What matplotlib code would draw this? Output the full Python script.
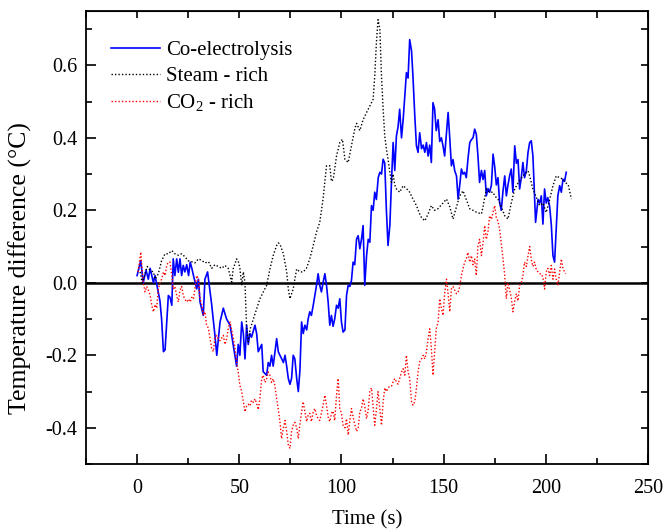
import matplotlib
matplotlib.use("Agg")
import matplotlib.pyplot as plt
from matplotlib.ticker import MultipleLocator, NullFormatter

# Co-electrolysis (solid blue)
co_t = [0, 1.8, 3.0, 4.4, 5.5, 6.4, 8.0, 8.8, 10.4, 11.2, 12.0, 12.9, 13.7, 14.5, 15.3, 16.1,
        17.0, 17.7, 18.5, 19.4, 20.2, 21.0, 21.8, 22.6, 23.4, 24.3, 25.2, 26.0, 26.8, 27.6,
        29.2, 30.0, 30.8, 32.4, 33.2, 34.5, 36.5, 38.1, 39.0, 40.6, 42.2, 43.8, 45.5, 47.0,
        48.7, 49.5, 50.3, 51.2, 52.0, 52.8, 53.6, 54.4, 55.2, 56.0, 57.7, 58.5, 59.3, 61.0,
        61.7, 63.4, 64.2, 65.0, 65.8, 66.6, 68.3, 69.1, 69.9, 70.8, 71.6, 72.4, 73.2, 74.0,
        74.8, 75.6, 76.4, 77.2, 78.1, 78.9, 79.7, 80.5, 81.3, 82.1, 83.0, 83.7, 84.5, 85.3,
        86.2, 87.0, 87.8, 88.6, 89.4, 90.2, 91.0, 91.9, 92.7, 93.5, 94.3, 95.1, 95.9, 96.7,
        97.6, 98.4, 99.2, 100.0, 100.8, 101.7, 102.5, 103.3, 104.1, 104.9, 105.7, 106.5,
        107.4, 108.2, 109.0, 109.8, 110.6, 111.4, 112.3, 113.1, 113.9, 114.7, 115.5, 116.3,
        117.1, 118.0, 118.8, 119.6, 120.4, 121.2, 122.0, 122.8, 123.7, 124.5, 125.3, 126.1,
        126.9, 127.7, 128.5, 129.4, 130.2, 131.0, 131.8, 132.6, 133.4, 134.3, 135.0, 135.9,
        136.7, 137.5, 138.3, 139.2, 140.0, 140.8, 141.6, 142.4, 143.2, 144.0, 144.8, 145.6,
        146.4, 147.3, 148.1, 148.9, 149.7, 150.5, 151.4, 152.2, 153.0, 153.8, 154.6, 155.4,
        156.3, 157.1, 157.9, 158.7, 159.5, 160.3, 161.1, 161.9, 162.8, 163.6, 164.4, 165.2,
        166.0, 166.8, 167.6, 168.5, 169.3, 170.1, 170.9, 171.7, 172.5, 173.4, 174.2, 175.0,
        175.8, 176.6, 177.4, 178.2, 179.0, 179.9, 180.7, 181.5, 182.3, 183.1, 183.9, 184.8,
        185.6, 186.4, 187.2, 188.0, 188.8, 189.6, 190.5, 191.3, 192.1, 192.9, 193.7, 194.5,
        195.0, 196.2, 197.0, 197.8, 198.6, 199.4, 200.2, 201.0, 201.9, 202.7, 203.5, 204.3,
        205.1, 205.9, 206.8, 207.6, 208.4, 209.2, 210.0]
co_v = [0.02, 0.061, 0.0, 0.035, 0.01, 0.04, 0.0, 0.02, -0.026, -0.05, -0.10, -0.19, -0.185,
        -0.108, -0.035, -0.04, -0.062, 0.066, 0.02, 0.066, 0.029, 0.066, 0.02, 0.048, 0.03,
        0.05, 0.02, 0.057, 0.04, 0.02, -0.017, 0.01, -0.053, -0.09, 0.01, 0.03, -0.06, -0.145,
        -0.2, -0.108, -0.07, -0.1, -0.117, -0.17, -0.23, -0.17, -0.2, -0.108, -0.14, -0.21,
        -0.117, -0.17, -0.14, -0.15, -0.117, -0.14, -0.19, -0.17, -0.245, -0.255, -0.22,
        -0.23, -0.2, -0.23, -0.154, -0.19, -0.2, -0.21, -0.22, -0.2, -0.23, -0.264, -0.28,
        -0.264, -0.2, -0.21, -0.264, -0.3, -0.24, -0.108, -0.14, -0.117, -0.13, -0.1, -0.08,
        -0.09, -0.062, -0.035, -0.007, 0.025, -0.007, -0.025, 0.0, 0.025, -0.007, -0.053,
        -0.117, -0.09, -0.12, -0.10, -0.062, -0.07, -0.044, -0.108, -0.136, -0.13, -0.035,
        -0.007, -0.01, 0.006, 0.057, 0.05, 0.121, 0.13, 0.094, 0.12, 0.158, -0.007, 0.075,
        0.12, 0.112, 0.213, 0.2, 0.25, 0.23, 0.29, 0.305, 0.30, 0.341, 0.33, 0.2, 0.103, 0.16,
        0.28, 0.387, 0.31, 0.405, 0.43, 0.479, 0.40, 0.45, 0.515, 0.58, 0.565, 0.671, 0.64,
        0.57, 0.46, 0.378, 0.36, 0.414, 0.37, 0.38, 0.36, 0.387, 0.35, 0.38, 0.332, 0.497,
        0.479, 0.42, 0.45, 0.39, 0.40, 0.378, 0.35, 0.414, 0.47, 0.40, 0.323, 0.34, 0.31,
        0.295, 0.231, 0.27, 0.314, 0.30, 0.305, 0.29, 0.341, 0.387, 0.395, 0.40, 0.424, 0.41,
        0.35, 0.277, 0.31, 0.285, 0.31, 0.24, 0.26, 0.25, 0.27, 0.355, 0.32, 0.27, 0.29,
        0.222, 0.20, 0.25, 0.295, 0.24, 0.27, 0.295, 0.314, 0.25, 0.378, 0.33, 0.34, 0.259,
        0.29, 0.332, 0.29, 0.31, 0.36, 0.387, 0.392, 0.35, 0.24, 0.167, 0.23, 0.22, 0.24,
        0.162, 0.259, 0.22, 0.235, 0.21, 0.16, 0.075, 0.057, 0.15, 0.24, 0.268, 0.25, 0.286,
        0.28, 0.305]

# Steam - rich (black dotted)
steam_t = [1.5, 2.5, 3.9, 5.0, 6.4, 8.0, 8.8, 10.4, 12.0, 13.7, 15.3, 17.0, 18.5, 20.2, 21.8,
           23.4, 25.0, 26.8, 28.3, 30.0, 31.6, 33.2, 35.0, 36.5, 38.1, 39.8, 41.4, 43.0, 44.6,
           45.5, 46.3, 47.0, 48.7, 49.5, 50.3, 51.2, 52.0, 52.8, 53.6, 54.4, 55.2, 56.9, 58.5,
           60.1, 61.7, 63.4, 65.0, 66.6, 68.3, 69.1, 69.9, 71.6, 73.2, 74.0, 74.8, 75.6, 76.4,
           77.2, 78.1, 79.7, 81.3, 82.9, 84.5, 86.2, 87.8, 89.4, 91.0, 92.7, 94.3, 95.1, 96.0,
           97.6, 99.2, 100.5, 101.7, 103.3, 104.9, 106.5, 107.4, 108.2, 109.0, 110.6, 112.3,
           113.9, 115.5, 116.3, 117.1, 117.9, 118.8, 119.6, 120.4, 121.2, 122.0, 122.8, 123.7,
           124.5, 125.3, 126.1, 126.9, 128.5, 130.2, 131.8, 133.4, 135.0, 136.7, 138.3, 139.2,
           140.8, 142.4, 144.0, 145.6, 147.3, 148.9, 151.4, 153.0, 154.6, 156.3, 157.9, 159.5,
           161.1, 162.8, 164.4, 166.0, 168.5, 169.3, 170.9, 172.5, 174.2, 175.0, 176.6, 178.2,
           179.9, 181.5, 183.1, 184.8, 186.4, 188.8, 191.3, 192.1, 193.7, 195.4, 197.0, 198.6,
           200.2, 201.9, 203.5, 205.1, 206.8, 208.4, 210.0, 211.0, 212.5]
steam_v = [0.03, 0.0, 0.025, 0.045, 0.034, 0.03, 0.01, 0.025, 0.061, 0.08, 0.08, 0.089, 0.08,
           0.076, 0.08, 0.072, 0.061, 0.058, 0.055, 0.066, 0.062, 0.055, 0.058, 0.04, 0.05,
           0.045, 0.04, 0.048, 0.04, 0.02, 0.002, 0.038, 0.066, 0.06, 0.04, -0.007, 0.03, 0.0,
           -0.127, -0.163, -0.13, -0.10, -0.072, -0.044, -0.026, -0.007, 0.038, 0.075, 0.103,
           0.11, 0.107, 0.08, 0.03, -0.017, -0.044, -0.03, -0.017, 0.01, 0.038, 0.03, 0.03,
           0.04, 0.066, 0.103, 0.14, 0.167, 0.231, 0.323, 0.323, 0.28, 0.286, 0.35, 0.387,
           0.396, 0.341, 0.332, 0.378, 0.424, 0.44, 0.43, 0.42, 0.45, 0.47, 0.488, 0.506, 0.57,
           0.662, 0.726, 0.70, 0.57, 0.479, 0.405, 0.37, 0.341, 0.305, 0.277, 0.30, 0.27,
           0.259, 0.25, 0.268, 0.26, 0.25, 0.231, 0.213, 0.19, 0.18, 0.171, 0.19, 0.213, 0.20,
           0.205, 0.215, 0.231, 0.21, 0.176, 0.21, 0.24, 0.254, 0.23, 0.204, 0.20, 0.195, 0.19,
           0.21, 0.259, 0.25, 0.25, 0.24, 0.231, 0.21, 0.185, 0.176, 0.22, 0.259, 0.275, 0.295,
           0.309, 0.295, 0.259, 0.235, 0.213, 0.22, 0.194, 0.23, 0.268, 0.295, 0.29, 0.286,
           0.275, 0.27, 0.231]

# CO2 - rich (red dotted)
co2_t = [0.5, 1.2, 1.8, 2.4, 3.0, 3.9, 4.7, 5.5, 6.4, 7.2, 8.0, 8.8, 9.6, 10.4, 11.2, 12.0,
         12.9, 13.7, 14.5, 15.3, 16.1, 17.0, 17.7, 18.5, 19.4, 20.2, 21.0, 21.8, 22.6, 23.4,
         24.3, 25.2, 26.0, 26.8, 27.6, 28.3, 29.2, 30.0, 30.8, 31.6, 32.4, 33.2, 34.0, 34.9,
         35.7, 36.5, 37.3, 38.1, 39.0, 39.8, 40.6, 42.2, 43.0, 43.8, 44.6, 45.5, 46.3, 47.0,
         47.9, 48.7, 49.5, 50.3, 51.2, 52.0, 52.8, 53.6, 54.4, 55.2, 56.0, 56.9, 57.7, 58.5,
         59.3, 60.1, 61.0, 61.7, 62.6, 63.4, 64.2, 65.0, 65.8, 66.6, 67.4, 68.3, 69.1, 69.9,
         70.7, 71.6, 72.4, 73.2, 74.0, 74.8, 75.6, 76.4, 77.2, 78.1, 78.9, 79.7, 80.5, 81.3,
         82.1, 83.0, 83.7, 84.5, 85.3, 86.2, 87.0, 87.8, 88.6, 89.4, 90.2, 91.0, 91.9, 92.7,
         93.5, 94.3, 95.1, 95.9, 96.7, 97.6, 98.4, 99.2, 100.0, 100.8, 101.7, 102.5, 103.3,
         104.1, 104.9, 105.7, 106.5, 107.4, 108.2, 109.0, 109.8, 110.6, 111.4, 112.3, 113.1,
         113.9, 114.7, 115.5, 116.3, 117.1, 117.9, 118.8, 119.6, 120.4, 121.2, 122.0, 122.8,
         123.7, 124.5, 125.3, 126.1, 126.9, 127.7, 128.5, 129.4, 130.2, 131.0, 131.8, 132.6,
         133.4, 134.3, 135.0, 135.9, 136.7, 137.5, 138.3, 139.2, 140.0, 140.8, 141.6, 142.4,
         143.2, 144.0, 144.8, 145.6, 146.4, 147.3, 148.1, 148.9, 149.7, 150.5, 151.4, 152.2,
         153.0, 153.8, 154.6, 155.4, 156.3, 157.1, 157.9, 158.7, 159.5, 160.3, 161.1, 161.9,
         162.8, 163.6, 164.4, 165.2, 166.0, 166.8, 167.6, 168.5, 169.3, 170.1, 170.9, 171.7,
         172.5, 173.4, 174.2, 175.0, 175.8, 176.6, 177.4, 178.2, 179.0, 179.9, 180.7, 181.5,
         182.3, 183.1, 183.9, 184.8, 185.6, 186.4, 187.2, 188.0, 188.8, 189.6, 190.5, 191.3,
         192.1, 192.9, 193.7, 194.5, 195.4, 196.2, 197.0, 197.8, 198.6, 199.4, 200.2, 201.0,
         201.9, 202.7, 203.5, 204.3, 205.1, 205.9, 206.8, 207.6, 208.4, 209.2, 209.7]
co2_v = [0.03, 0.06, 0.085, 0.04, 0.002, -0.025, -0.01, -0.02, -0.035, -0.062, -0.08, -0.06,
         -0.07, -0.017, 0.0, 0.01, 0.03, 0.02, 0.048, 0.057, 0.057, 0.02, -0.017, -0.01,
         -0.035, -0.053, -0.02, -0.01, -0.035, -0.045, -0.053, -0.045, -0.053, -0.04, -0.045,
         -0.017, 0.02, 0.01, -0.044, -0.06, -0.09, -0.08, -0.117, -0.125, -0.154, -0.18, -0.19,
         -0.15, -0.145, -0.155, -0.16, -0.145, -0.17, -0.155, -0.127, -0.108, -0.13, -0.15,
         -0.18, -0.218, -0.246, -0.283, -0.30, -0.328, -0.356, -0.34, -0.335, -0.34, -0.324,
         -0.33, -0.32, -0.333, -0.35, -0.32, -0.264, -0.255, -0.275, -0.265, -0.246, -0.255,
         -0.275, -0.265, -0.283, -0.32, -0.35, -0.383, -0.43, -0.40, -0.38, -0.41, -0.447,
         -0.457, -0.41, -0.393, -0.385, -0.40, -0.43, -0.39, -0.356, -0.328, -0.356, -0.383,
         -0.365, -0.36, -0.383, -0.356, -0.347, -0.365, -0.375, -0.38, -0.36, -0.338, -0.31,
         -0.338, -0.37, -0.383, -0.36, -0.354, -0.38, -0.31, -0.264, -0.347, -0.36, -0.393,
         -0.40, -0.375, -0.42, -0.38, -0.347, -0.37, -0.39, -0.41, -0.40, -0.356, -0.347,
         -0.32, -0.34, -0.375, -0.35, -0.30, -0.29, -0.34, -0.393, -0.35, -0.30, -0.35, -0.393,
         -0.33, -0.29, -0.30, -0.29, -0.285, -0.285, -0.273, -0.264, -0.273, -0.28, -0.264,
         -0.246, -0.237, -0.255, -0.20, -0.246, -0.264, -0.328, -0.338, -0.328, -0.29, -0.246,
         -0.218, -0.21, -0.20, -0.21, -0.19, -0.154, -0.127, -0.18, -0.255, -0.19, -0.127,
         -0.108, -0.044, -0.07, -0.09, -0.03, 0.01, -0.03, -0.08, -0.017, -0.01, -0.02, -0.03,
         -0.026, -0.01, 0.02, 0.04, 0.057, 0.066, 0.084, 0.057, 0.075, 0.05, 0.066, 0.02,
         0.103, 0.12, 0.075, 0.11, 0.158, 0.12, 0.14, 0.185, 0.175, 0.195, 0.213, 0.18, 0.17,
         0.148, 0.11, 0.07, 0.02, -0.044, 0.0, -0.02, -0.04, -0.08, -0.05, -0.03, -0.05,
         -0.007, 0.0, 0.02, 0.057, 0.045, 0.075, 0.10, 0.065, 0.045, 0.057, 0.035, 0.03,
         0.025, 0.025, 0.015, -0.017, 0.03, 0.04, 0.02, 0.048, 0.01, 0.038, 0.01, -0.007,
         0.03, 0.066, 0.04, 0.03, 0.025]

plt.rcParams['font.family'] = ['Liberation Serif', 'DejaVu Serif']
plt.rcParams['font.size'] = 14.5
plt.rcParams['mathtext.fontset'] = 'custom'
plt.rcParams['mathtext.rm'] = 'Liberation Serif'

fig = plt.figure(figsize=(6.65, 5.32), dpi=100)
ax = fig.add_axes([0.1293, 0.1278, 0.8451, 0.8515])

ax.plot(co_t, co_v, color='#0000ff', lw=1.2, label='Co-electrolysis')
ax.plot(steam_t, steam_v, color='black', lw=1.0, ls=(0, (1, 1.5)), label='Steam - rich')
ax.plot(co2_t, co2_v, color='#ff0000', lw=1.0, ls=(0, (1, 1.5)), label='CO$_\\mathregular{2}$ - rich')
ax.axhline(0, color='black', lw=1.8, zorder=0)

ax.set_xlim(-25, 250)
ax.set_ylim(-0.5, 0.75)
ax.xaxis.set_major_locator(MultipleLocator(50))
ax.xaxis.set_minor_locator(MultipleLocator(25))
ax.yaxis.set_major_locator(MultipleLocator(0.2))
ax.yaxis.set_minor_locator(MultipleLocator(0.1))
ax.yaxis.set_major_formatter(matplotlib.ticker.FormatStrFormatter('%.1f'))
ax.tick_params(which='major', direction='in', length=7, width=1.2)
ax.tick_params(which='minor', direction='in', length=4, width=1.2)
ax.tick_params(axis='x', which='major', pad=11)
ax.tick_params(axis='y', which='major', pad=6)
for s in ax.spines.values():
    s.set_linewidth(1.3)

# top and right ticks without labels
top = ax.secondary_xaxis('top')
top.xaxis.set_major_locator(MultipleLocator(25))
top.xaxis.set_major_formatter(NullFormatter())
top.tick_params(direction='in', length=5, width=1.2)
right = ax.secondary_yaxis('right')
right.yaxis.set_major_locator(MultipleLocator(0.1))
right.yaxis.set_major_formatter(NullFormatter())
right.tick_params(direction='in', length=5, width=1.2)

ax.set_xlabel('Time (s)', fontsize=15)
ax.xaxis.set_label_coords(0.5, -0.102)
ax.set_ylabel('Temperature difference (°C)', fontsize=18.5)
ax.yaxis.set_label_coords(-0.096, 0.432)

ax.legend(loc='upper left', bbox_to_anchor=(0.0105, 0.976), frameon=False, fontsize=15,
          handlelength=2.35, handletextpad=0.3, labelspacing=0.3, borderpad=0.4)

fig.savefig('out.png', dpi=100)
